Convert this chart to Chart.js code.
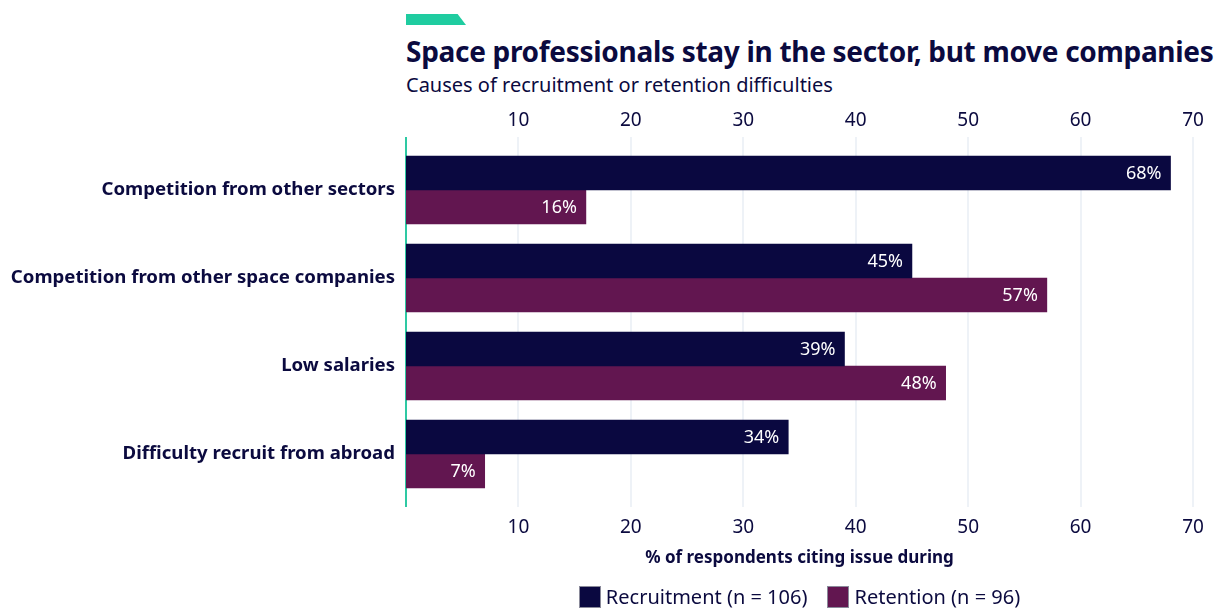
<!DOCTYPE html>
<html>
<head>
<meta charset="utf-8">
<script src="https://cdn.jsdelivr.net/npm/chart.js@4.4.1/dist/chart.umd.min.js"></script>
<style>
  body { margin: 0; background: #fff; font-family: "Noto Sans", sans-serif; }
  #wrap { position: relative; width: 1222px; height: 610px; }
  #tab { position: absolute; left: 406px; top: 14px; width: 60px; height: 11px; background: #1fcca0;
         clip-path: polygon(0 0, 86% 0, 100% 100%, 0 100%); }
  #title { position: absolute; left: 406px; top: 32px; margin: 0; font-size: 28px; font-weight: 700;
           color: #0b0a3f; letter-spacing: -0.3px; white-space: nowrap; }
  #subtitle { position: absolute; left: 406px; top: 71px; margin: 0; font-size: 20px; color: #0b0a3f; white-space: nowrap; }
  #chart { position: absolute; left: 0; top: 0; }
  #leyenda { position: absolute; left: 406px; width: 787px; top: 584px; display: flex; justify-content: center;
             gap: 20px; font-size: 20px; color: #0b0a3f; line-height: 26px; }
  #leyenda span.item { display: flex; align-items: center; gap: 5px; }
  #leyenda span.caja { width: 22px; height: 22px; border: 1px solid #8a8a9a; box-sizing: border-box; }
</style>
</head>
<body>
<div id="wrap">
  <div id="tab"></div>
  <h1 id="title">Space professionals stay in the sector, but move companies</h1>
  <p id="subtitle">Causes of recruitment or retention difficulties</p>
  <canvas id="chart" width="1222" height="610"></canvas>
  <div id="leyenda"></div>
</div>
<script>
// Datos del gráfico
const categorias = [
    'Competition from other sectors',
    'Competition from other space companies',
    'Low salaries',
    'Difficulty recruit from abroad'
];
const reclutamiento = [68, 45, 39, 34];
const retencion = [16, 57, 48, 7];
const ticksX = [10, 20, 30, 40, 50, 60, 70];

const NAVY = '#0b0a3f';
const EXTRA = 9; // las líneas de la rejilla sobresalen del área de barras

// Rejilla vertical y eje teal, un poco más largos que el área del gráfico
const rejillaExtendida = {
    id: 'rejillaExtendida',
    beforeDatasetsDraw(chart) {
        const { ctx, chartArea, scales } = chart;
        ctx.save();
        ctx.lineWidth = 2;
        ctx.strokeStyle = '#eef2f7';
        ticksX.forEach(v => {
            const x = Math.round(scales.x.getPixelForValue(v));
            ctx.beginPath();
            ctx.moveTo(x, chartArea.top - EXTRA);
            ctx.lineTo(x, chartArea.bottom + EXTRA);
            ctx.stroke();
        });
        const x0 = scales.x.getPixelForValue(0);
        ctx.strokeStyle = '#2ec9a3';
        ctx.beginPath();
        ctx.moveTo(x0, chartArea.top - EXTRA);
        ctx.lineTo(x0, chartArea.bottom + EXTRA);
        ctx.stroke();
        ctx.restore();
    }
};

// Etiquetas de porcentaje dentro del final de cada barra
const etiquetasBarras = {
    id: 'etiquetasBarras',
    afterDatasetsDraw(chart) {
        const ctx = chart.ctx;
        ctx.save();
        ctx.font = '18px "Noto Sans"';
        ctx.fillStyle = '#ffffff';
        ctx.textAlign = 'right';
        ctx.textBaseline = 'middle';
        chart.data.datasets.forEach((ds, i) => {
            chart.getDatasetMeta(i).data.forEach((bar, j) => {
                ctx.fillText(ds.data[j] + '%', bar.x - 9, bar.y + 1);
            });
        });
        ctx.restore();
    }
};

const ctx = document.getElementById('chart');
const grafico = new Chart(ctx, {
    type: 'bar',
    data: {
        labels: categorias,
        datasets: [
            { label: 'Recruitment (n = 106)', data: reclutamiento, backgroundColor: '#0a0840', xAxisID: 'x' },
            { label: 'Retention (n = 96)', data: retencion, backgroundColor: '#621650', xAxisID: 'x' }
        ]
    },
    options: {
        indexAxis: 'y',
        responsive: false,
        animation: false,
        categoryPercentage: 0.841,
        barThickness: 34,
        layout: { padding: { top: 106, right: 29, left: 0, bottom: 42 } },
        plugins: {
            legend: { display: false },
            tooltip: { enabled: false }
        },
        scales: {
            x: {
                position: 'bottom',
                min: 0,
                max: 70,
                afterBuildTicks: axis => { axis.ticks = ticksX.map(v => ({ value: v })); },
                afterFit: scale => { scale.height = 70; },
                grid: { display: false, drawTicks: false },
                border: { display: false },
                ticks: { color: NAVY, padding: 18, font: { family: 'Noto Sans', size: 19 } },
                title: {
                    display: true,
                    text: '% of respondents citing issue during',
                    color: NAVY,
                    font: { family: 'Noto Sans', size: 17, weight: 'bold' },
                    padding: { top: 0, bottom: 0 }
                }
            },
            x2: {
                position: 'top',
                min: 0,
                max: 70,
                afterBuildTicks: axis => { axis.ticks = ticksX.map(v => ({ value: v })); },
                afterFit: scale => { scale.height = 40; },
                grid: { display: false, drawTicks: false },
                border: { display: false },
                ticks: { color: NAVY, padding: 14, font: { family: 'Noto Sans', size: 19 } }
            },
            y: {
                afterFit: scale => { scale.width = 406; },
                grid: { display: false, drawTicks: false },
                border: { display: false },
                ticks: { color: NAVY, padding: 11, font: { family: 'Noto Sans', size: 18.6, weight: 'bold' } }
            }
        }
    },
    plugins: [rejillaExtendida, etiquetasBarras]
});

// Leyenda en HTML, centrada bajo el área de barras
const leyenda = document.getElementById('leyenda');
leyenda.style.left = grafico.chartArea.left + 'px';
leyenda.style.width = (grafico.chartArea.right - grafico.chartArea.left) + 'px';
grafico.data.datasets.forEach(ds => {
    const item = document.createElement('span');
    item.className = 'item';
    const caja = document.createElement('span');
    caja.className = 'caja';
    caja.style.background = ds.backgroundColor;
    const texto = document.createElement('span');
    texto.textContent = ds.label;
    item.appendChild(caja);
    item.appendChild(texto);
    leyenda.appendChild(item);
});
</script>
</body>
</html>
